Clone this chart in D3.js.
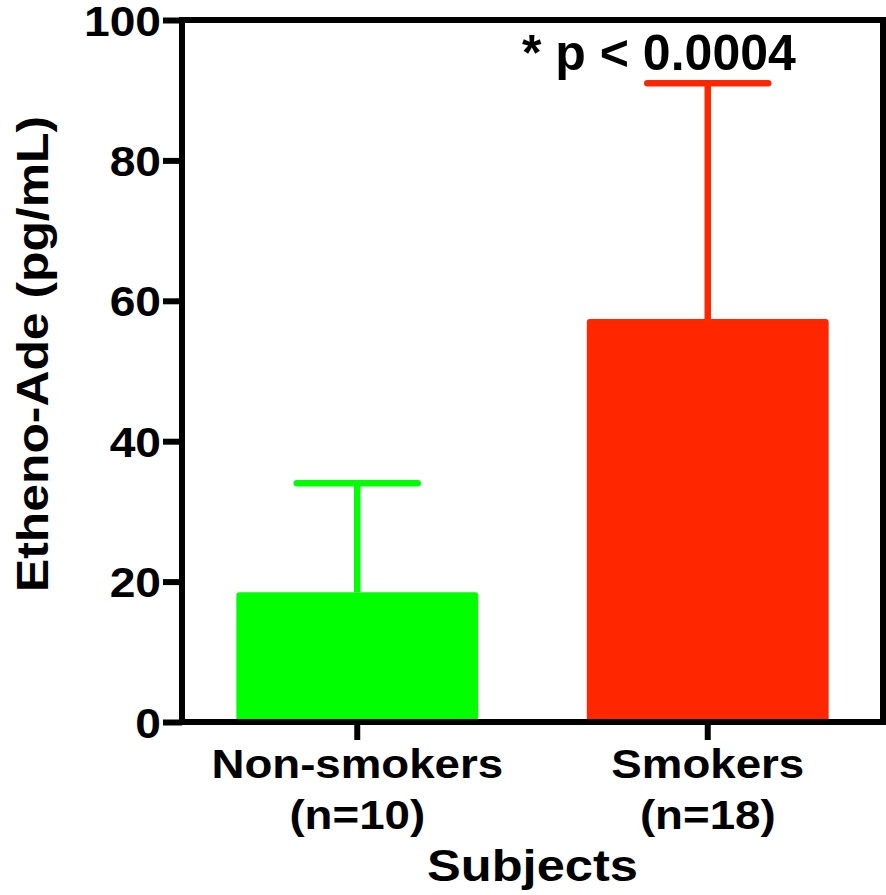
<!DOCTYPE html>
<html>
<head>
<meta charset="utf-8">
<script src="https://cdn.jsdelivr.net/npm/d3@7"></script>
<style>
  html, body { margin: 0; padding: 0; background: #fff; }
  svg { display: block; }
  text { font-family: "Liberation Sans", Arial, Helvetica, sans-serif; font-weight: bold; fill: #000; }
</style>
</head>
<body>
<svg id="chart" width="886" height="895"></svg>
<script>
// Group names, sample sizes and measured values
const categories = ["Non-smokers", "Smokers"];
const sampleSizes = ["(n=10)", "(n=18)"];
const means = [18.5, 57.4];
const errors = [15.5, 33.6];
const barColors = ["#00ff00", "#ff2600"];
const yTicks = [0, 20, 40, 60, 80, 100];
const yTitle = "Etheno-Ade (pg/mL)";
const xTitle = "Subjects";
const annotation = "* p < 0.0004";

const svg = d3.select("#chart");
const plotLeft = 182, plotRight = 883, plotTop = 20, plotBottom = 722;
const axisWidth = 6;

const x = d3.scaleBand().domain(categories).range([plotLeft, plotRight])
  .paddingInner(0.31).paddingOuter(0.155);
const y = d3.scaleLinear().domain([0, 100]).range([plotBottom, plotTop]);

const rows = categories.map((c, i) => ({
  cat: c, n: sampleSizes[i], mean: means[i], err: errors[i], color: barColors[i]
}));

// Bars
svg.append("g").selectAll("rect").data(rows).join("rect")
  .attr("x", d => x(d.cat))
  .attr("y", d => y(d.mean))
  .attr("width", x.bandwidth())
  .attr("height", d => y(0) - y(d.mean) + 3)
  .attr("rx", 3)
  .attr("fill", d => d.color);

// Upper error bars
const eb = svg.append("g").selectAll("g").data(rows).join("g");
eb.append("line")
  .attr("x1", d => x(d.cat) + x.bandwidth() / 2)
  .attr("x2", d => x(d.cat) + x.bandwidth() / 2)
  .attr("y1", d => y(d.mean))
  .attr("y2", d => y(d.mean + d.err))
  .attr("stroke", d => d.color)
  .attr("stroke-width", 6.5);
eb.append("line")
  .attr("x1", d => x(d.cat) + x.bandwidth() / 2 - x.bandwidth() * 0.25)
  .attr("x2", d => x(d.cat) + x.bandwidth() / 2 + x.bandwidth() * 0.25)
  .attr("y1", d => y(d.mean + d.err))
  .attr("y2", d => y(d.mean + d.err))
  .attr("stroke", d => d.color)
  .attr("stroke-width", 6.5)
  .attr("stroke-linecap", "round");

// Frame: top and right edges
svg.append("line")
  .attr("x1", plotLeft).attr("x2", 886)
  .attr("y1", plotTop).attr("y2", plotTop)
  .attr("stroke", "#000").attr("stroke-width", axisWidth);
svg.append("line")
  .attr("x1", plotRight).attr("x2", plotRight)
  .attr("y1", plotTop - 3).attr("y2", plotBottom + 3)
  .attr("stroke", "#000").attr("stroke-width", axisWidth);

// Y axis
const yAxis = svg.append("g")
  .attr("transform", `translate(${plotLeft},0)`)
  .call(d3.axisLeft(y).tickValues(yTicks).tickSize(19).tickSizeOuter(0).tickFormat(d3.format("d")));
yAxis.select(".domain").attr("stroke", "#000").attr("stroke-width", axisWidth)
  .attr("d", `M0,${plotTop - 3}V${plotBottom + 3}`);
yAxis.selectAll(".tick line").attr("stroke", "#000").attr("stroke-width", axisWidth);
yAxis.selectAll(".tick text")
  .attr("x", 0).attr("dy", null).attr("y", 0)
  .attr("text-anchor", "end")
  .attr("transform", "translate(-21,15) scale(1.1,1)")
  .style("font-size", "42px")
  .attr("font-family", null)
  .attr("font-size", null);

// X axis
const xAxis = svg.append("g")
  .attr("transform", `translate(0,${plotBottom})`)
  .call(d3.axisBottom(x).tickSize(18).tickSizeOuter(0).tickFormat(""));
xAxis.select(".domain").attr("stroke", "#000").attr("stroke-width", axisWidth)
  .attr("d", `M${plotLeft - 3},0H${plotRight + 3}`);
xAxis.selectAll(".tick line").attr("stroke", "#000").attr("stroke-width", axisWidth);

// Category labels (two lines each)
const lab = svg.append("g").selectAll("g").data(rows).join("g");
lab.append("text")
  .attr("text-anchor", "middle")
  .attr("transform", d => `translate(${x(d.cat) + x.bandwidth() / 2},778) scale(1.1,1)`)
  .style("font-size", "41.5px")
  .text(d => d.cat);
lab.append("text")
  .attr("text-anchor", "middle")
  .attr("transform", d => `translate(${x(d.cat) + x.bandwidth() / 2},829) scale(1.1,1)`)
  .style("font-size", "41.5px")
  .text(d => d.n);

// Axis titles
svg.append("text")
  .attr("text-anchor", "middle")
  .attr("transform", `translate(${(plotLeft + plotRight) / 2},881) scale(1.15,1)`)
  .style("font-size", "44px")
  .text(xTitle);
svg.append("text")
  .attr("text-anchor", "middle")
  .attr("transform", `translate(48,354) rotate(-90) scale(1.12,1)`)
  .style("font-size", "44.5px")
  .text(yTitle);

// Significance annotation
svg.append("text")
  .attr("x", 522).attr("y", 70)
  .style("font-size", "50px")
  .text(annotation);
</script>
</body>
</html>
